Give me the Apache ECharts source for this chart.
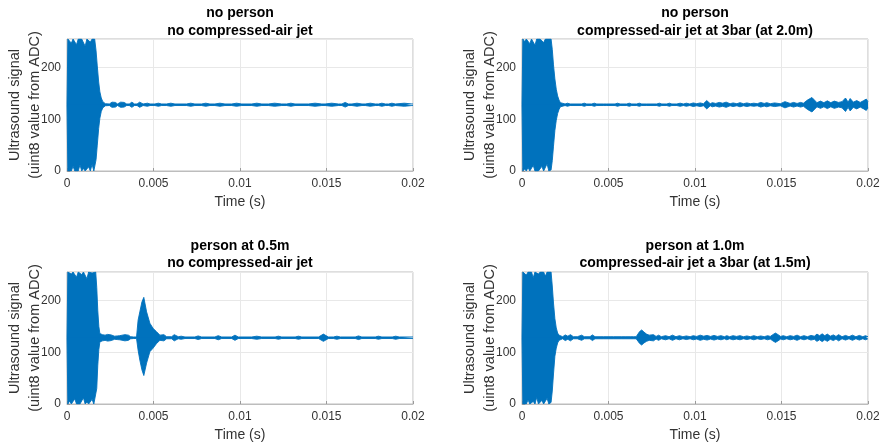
<!DOCTYPE html>
<html>
<head>
<meta charset="utf-8">
<script src="https://cdn.jsdelivr.net/npm/echarts@6/dist/echarts.min.js"></script>
<style>
html,body{margin:0;padding:0;background:#fff;}
#chart{width:883px;height:445px;}
</style>
</head>
<body>
<div id="chart"></div>
<script>
// ---------- DATA (signal envelope; time in ms, values in ADC units) ----------
const titles = [
  'no person\nno compressed-air jet',
  'no person\ncompressed-air jet at 3bar (at 2.0m)',
  'person at 0.5m\nno compressed-air jet',
  'person at 1.0m\ncompressed-air jet a 3bar (at 1.5m)'
];
const xTickValues = [0, 0.005, 0.01, 0.015, 0.02];
const yTickValues = [0, 100, 200];

const time1 = [0, 0.05, 0.15, 0.25, 0.35, 0.45, 0.55, 0.65, 0.75, 0.85,
  0.95, 1.05, 1.15, 1.25, 1.35, 1.45, 1.55, 1.6, 1.68, 1.75,
  1.83, 1.9, 1.98, 2.07, 2.15, 2.22, 2.45, 2.6, 2.8, 2.92,
  3.1, 3.3, 3.45, 3.6, 3.75, 3.9, 4.05, 4.2, 4.4, 4.65,
  4.8, 5.08, 5.28, 5.47, 5.75, 6.0, 6.24, 6.91, 7.15, 7.39,
  7.78, 8.02, 8.26, 8.55, 8.84, 9.13, 9.52, 9.8, 10.1, 10.68,
  10.97, 11.26, 11.64, 12.0, 12.41, 12.7, 12.94, 13.18, 13.95, 14.34,
  14.73, 14.92, 15.3, 15.69, 15.89, 16.08, 16.27, 16.47, 16.76, 17.05,
  17.24, 17.53, 17.82, 18.01, 18.2, 18.4, 18.59, 18.78, 18.98, 19.07,
  19.5, 19.94, 20];
const upper1 = [128, 255, 255, 247, 255, 255, 244, 255, 252, 255,
  255, 241, 255, 255, 249, 255, 255, 255, 232, 203,
  172, 153, 141, 134, 131, 130, 129.5, 133, 132.5, 129.5,
  133, 132.5, 129.5, 129.5, 133, 129.5, 129.5, 133, 129.5, 131,
  129.5, 129.5, 131, 129.5, 129.5, 131, 129.5, 129.5, 131, 129.5,
  129.5, 131, 129.5, 129.5, 131, 129.5, 129.5, 131, 129.5, 129.5,
  131, 129.5, 129.5, 131, 129.5, 129.5, 131, 129.5, 129.5, 131,
  129.5, 129.5, 131, 129.5, 129.5, 132.5, 129.5, 129.5, 131, 129.5,
  129.5, 131, 129.5, 129.5, 131, 129.5, 129.5, 131, 129.5, 129.5,
  131, 129.5, 129.5];
const lower1 = [128, 0, 3, 0, 9, 0, 2, 0, 12, 0,
  5, 0, 0, 8, 0, 13, 0, 2, 22, 50,
  82, 102, 115, 122, 125, 126, 126.5, 123, 123.5, 126.5,
  123, 123.5, 126.5, 126.5, 123, 126.5, 126.5, 123, 126.5, 125,
  126.5, 126.5, 125, 126.5, 126.5, 125, 126.5, 126.5, 125, 126.5,
  126.5, 125, 126.5, 126.5, 125, 126.5, 126.5, 125, 126.5, 126.5,
  125, 126.5, 126.5, 125, 126.5, 126.5, 125, 126.5, 126.5, 125,
  126.5, 126.5, 125, 126.5, 126.5, 123.5, 126.5, 126.5, 125, 126.5,
  126.5, 125, 126.5, 126.5, 125, 126.5, 126.5, 125, 126.5, 126.5,
  125, 126.5, 126.5];

const time2 = [0, 0.05, 0.15, 0.25, 0.35, 0.45, 0.55, 0.65, 0.75, 0.85,
  0.95, 1.05, 1.15, 1.25, 1.35, 1.45, 1.55, 1.68, 1.75, 1.82,
  1.9, 1.98, 2.06, 2.14, 2.22, 2.3, 2.49, 2.63, 2.78, 3.45,
  3.6, 3.74, 4.03, 4.18, 4.32, 4.7, 4.8, 4.9, 5.38, 5.52,
  5.67, 6.05, 6.2, 6.34, 6.63, 6.78, 6.92, 7.21, 7.3, 7.4,
  7.79, 7.94, 8.08, 8.37, 8.52, 8.66, 8.95, 9.14, 9.33, 9.5,
  9.7, 9.9, 10.1, 10.3, 10.49, 10.68, 10.88, 11.0, 11.2, 11.4,
  11.6, 11.8, 12.03, 12.2, 12.42, 12.6, 12.8, 13.0, 13.2, 13.4,
  13.6, 13.8, 14.0, 14.15, 14.35, 14.6, 14.93, 15.2, 15.5, 15.7,
  15.9, 16.1, 16.27, 16.5, 16.76, 17.05, 17.25, 17.45, 17.65, 17.85,
  18.05, 18.3, 18.5, 18.7, 18.85, 18.97, 19.15, 19.35, 19.55, 19.75,
  19.9, 20];
const upper2 = [128, 255, 250, 255, 255, 246, 255, 255, 243, 255,
  252, 255, 255, 248, 255, 255, 255, 255, 235, 205,
  178, 158, 145, 137, 132, 130, 129.5, 131, 129.5, 129.5,
  131, 129.5, 129.5, 131, 129.5, 129.5, 131, 129.5, 129.5, 131,
  129.5, 129.5, 131, 129.5, 129.5, 131, 129.5, 129.5, 131, 129.5,
  129.5, 131, 129.5, 129.5, 131, 129.5, 129.5, 131, 129.5, 131,
  129.5, 131.5, 130, 131.5, 130, 136, 130, 132, 130.5, 132.5,
  131, 133, 130, 131.5, 130, 132, 130, 131.5, 130, 131,
  130, 132.5, 130.5, 132, 130, 131.5, 130, 134, 130.5, 132.5,
  130.5, 132.5, 131, 137, 142, 132, 135, 132, 135.5, 132,
  135, 132.5, 134, 141, 133, 140, 133, 136, 132.5, 136,
  139, 134];
const lower2 = [128, 0, 4, 0, 7, 0, 0, 11, 0, 3,
  0, 0, 9, 0, 0, 14, 0, 2, 20, 48,
  78, 98, 111, 119, 124, 126, 126.5, 125, 126.5, 126.5,
  125, 126.5, 126.5, 125, 126.5, 126.5, 125, 126.5, 126.5, 125,
  126.5, 126.5, 125, 126.5, 126.5, 125, 126.5, 126.5, 125, 126.5,
  126.5, 125, 126.5, 126.5, 125, 126.5, 126.5, 125, 126.5, 125,
  126.5, 124.5, 126, 124.5, 126, 120, 126, 124, 125.5, 123.5,
  125, 123, 126, 124.5, 126, 124, 126, 124.5, 126, 125,
  126, 123.5, 125.5, 124, 126, 124.5, 126, 122, 125.5, 123.5,
  125.5, 123.5, 125, 119, 114, 124, 121, 124, 120.5, 124,
  121, 123.5, 122, 115, 123, 116, 123, 120, 123.5, 120,
  117, 122];

const time3 = [0, 0.05, 0.15, 0.25, 0.35, 0.45, 0.55, 0.65, 0.75, 0.85,
  0.95, 1.05, 1.15, 1.25, 1.35, 1.45, 1.55, 1.66, 1.72, 1.78,
  1.84, 1.9, 1.96, 2.05, 2.2, 2.35, 2.55, 2.75, 2.9, 3.05,
  3.15, 3.35, 3.55, 3.68, 3.85, 4.02, 4.11, 4.21, 4.33, 4.44,
  4.6, 4.79, 4.98, 5.18, 5.37, 5.47, 5.6, 5.76, 6.05, 6.2,
  6.43, 6.6, 6.82, 7.39, 7.58, 7.78, 8.55, 8.74, 8.94, 9.52,
  9.71, 9.9, 10.68, 10.97, 11.25, 12.03, 12.22, 12.41, 13.19, 13.38,
  13.57, 14.54, 14.82, 15.11, 15.4, 15.6, 15.8, 16.66, 16.85, 17.04,
  17.82, 18.0, 18.2, 18.8, 19.0, 19.2, 20];
const upper3 = [128, 255, 255, 251, 255, 255, 245, 255, 255, 250,
  255, 255, 242, 255, 255, 253, 255, 255, 225, 180,
  150, 136, 133, 134, 133, 134.5, 133.5, 131, 131.5, 132,
  135, 134, 133, 130, 129.5, 129.5, 162, 178, 197, 206,
  178, 156, 146, 139.5, 133, 130, 134, 130, 130, 134,
  130, 131, 129.5, 129.5, 131.5, 129.5, 129.5, 132, 129.5, 129.5,
  133, 129.5, 129.5, 131, 129.5, 129.5, 131, 129.5, 129.5, 131,
  129.5, 129.5, 135, 129.5, 129.5, 131, 129.5, 129.5, 131.5, 129.5,
  129.5, 131, 129.5, 129.5, 131, 129.5, 129.5];
const lower3 = [128, 0, 6, 0, 0, 10, 0, 3, 0, 0,
  12, 0, 4, 0, 0, 9, 0, 1, 30, 75,
  105, 120, 123, 122, 123, 121.5, 122.5, 125, 124.5, 124,
  121, 122, 123, 126, 126.5, 126.5, 104, 85, 66, 55,
  79, 101, 108, 117, 123, 126, 122, 126, 126, 122,
  126, 125, 126.5, 126.5, 124.5, 126.5, 126.5, 124, 126.5, 126.5,
  123, 126.5, 126.5, 125, 126.5, 126.5, 125, 126.5, 126.5, 125,
  126.5, 126.5, 121, 126.5, 126.5, 125, 126.5, 126.5, 124.5, 126.5,
  126.5, 125, 126.5, 126.5, 125, 126.5, 126.5];

const time4 = [0, 0.05, 0.15, 0.25, 0.35, 0.45, 0.55, 0.65, 0.75, 0.85,
  0.95, 1.05, 1.15, 1.25, 1.35, 1.45, 1.55, 1.68, 1.75, 1.82,
  1.9, 1.98, 2.06, 2.14, 2.22, 2.35, 2.5, 2.65, 2.8, 2.97,
  3.2, 3.45, 3.6, 3.93, 4.07, 4.22, 4.51, 4.6, 4.7, 5.09,
  5.18, 5.28, 5.77, 5.87, 5.96, 6.25, 6.35, 6.44, 6.6, 6.7,
  6.8, 6.92, 7.05, 7.2, 7.35, 7.45, 7.6, 7.75, 7.9, 8.05,
  8.3, 8.5, 8.7, 8.9, 9.1, 9.3, 9.5, 9.72, 9.9, 10.1,
  10.3, 10.5, 10.7, 10.9, 11.1, 11.3, 11.5, 11.7, 11.84, 12.0,
  12.2, 12.4, 12.6, 12.8, 13.0, 13.2, 13.4, 13.6, 13.8, 14.0,
  14.2, 14.35, 14.5, 14.65, 14.8, 14.95, 15.1, 15.3, 15.5, 15.7,
  15.9, 16.1, 16.3, 16.5, 16.7, 16.9, 17.05, 17.2, 17.35, 17.5,
  17.65, 17.82, 18.0, 18.15, 18.3, 18.5, 18.7, 18.9, 19.1, 19.3,
  19.5, 19.7, 19.85, 20];
const upper4 = [128, 255, 255, 249, 255, 255, 255, 244, 255, 255,
  251, 255, 255, 255, 247, 255, 255, 255, 228, 195,
  165, 147, 137, 133, 131, 130, 133.5, 131, 134, 130,
  130, 133, 130, 130, 133.5, 130, 130, 133, 130, 130,
  133, 130, 130, 133, 130, 130, 133, 130, 130, 131,
  140, 143, 139, 135, 133, 131, 134, 130.5, 133, 130,
  132, 130, 133, 130, 132, 130, 131.5, 130, 132, 130.5,
  133, 131, 132.5, 130.5, 132.5, 130.5, 132, 130, 132, 130,
  132, 130.5, 132, 130, 131.5, 130, 132, 130, 131.5, 130,
  132, 130.5, 134, 137, 134, 130.5, 132, 130, 132, 130.5,
  133, 130, 132, 130, 132.5, 131, 135, 132, 135.5, 132,
  135, 131, 133.5, 130.5, 134, 130, 132.5, 130, 133, 130,
  132.5, 130, 132, 130];
const lower4 = [128, 0, 2, 0, 8, 0, 0, 5, 0, 13,
  0, 0, 7, 0, 0, 11, 0, 3, 25, 58,
  92, 108, 118, 123, 125, 126, 122.5, 125, 122, 126,
  126, 123, 126, 126, 122.5, 126, 126, 123, 126, 126,
  123, 126, 126, 123, 126, 126, 123, 126, 126, 125,
  117, 114, 118, 121, 123, 125, 122, 125.5, 123, 126,
  124, 126, 123, 126, 124, 126, 124.5, 126, 124, 125.5,
  123, 125, 123.5, 125.5, 123.5, 125.5, 124, 126, 124, 126,
  124, 125.5, 124, 126, 124.5, 126, 124, 126, 124.5, 126,
  124, 125.5, 122, 119, 122, 125.5, 124, 126, 124, 125.5,
  123, 126, 124, 126, 123.5, 125, 121, 124, 120.5, 124,
  121, 125, 122.5, 125.5, 122, 126, 123.5, 126, 123, 126,
  123.5, 126, 124, 126];

// ---------- LAYOUT ----------
const BLUE = '#0072BD';
const FONT = '"Liberation Sans", Arial, Helvetica, sans-serif';
const panels = [
  {t: time1, hi: upper1, lo: lower1, left: 67, top: 39, cx: 240, ty: 4.5},
  {t: time2, hi: upper2, lo: lower2, left: 522, top: 39, cx: 695, ty: 4.5},
  {t: time3, hi: upper3, lo: lower3, left: 67, top: 272, cx: 240, ty: 237},
  {t: time4, hi: upper4, lo: lower4, left: 522, top: 272, cx: 695, ty: 237}
];
const W = 346, H = 132;

const option = {
  animation: false,
  backgroundColor: '#fff',
  title: [], grid: [], xAxis: [], yAxis: [], series: [], graphic: []
};

panels.forEach((p, i) => {
  option.title.push({
    text: titles[i], left: p.cx, top: p.ty, textAlign: 'center', padding: 0,
    textStyle: {fontFamily: FONT, fontSize: 14, fontWeight: 'bold', color: '#000', lineHeight: 17.5}
  });
  option.grid.push({left: p.left, top: p.top, width: W, height: H, show: true,
    borderColor: '#bdbdbd', borderWidth: 1, backgroundColor: '#fff', containLabel: false});
  option.xAxis.push({
    type: 'value', gridIndex: i, min: xTickValues[0], max: xTickValues[xTickValues.length - 1], interval: 0.005,
    name: 'Time (s)', nameLocation: 'middle', nameGap: 24,
    nameTextStyle: {fontFamily: FONT, fontSize: 14, color: '#333'},
    axisLine: {show: true, lineStyle: {color: '#bdbdbd', width: 1}},
    axisTick: {show: true, inside: true, length: 3, lineStyle: {color: '#9a9a9a'}},
    axisLabel: {fontFamily: FONT, fontSize: 12, color: '#333', margin: 7,
      formatter: v => String(parseFloat(Number(v).toFixed(4)))},
    splitLine: {show: true, lineStyle: {color: '#e8e8e8', width: 1}}
  });
  option.yAxis.push({
    type: 'value', gridIndex: i, min: 0, max: 255, interval: 100,
    axisLine: {show: true, lineStyle: {color: '#bdbdbd', width: 1}},
    axisTick: {show: true, inside: true, length: 3, lineStyle: {color: '#9a9a9a'}},
    axisLabel: {fontFamily: FONT, fontSize: 12, color: '#333', margin: 6, showMaxLabel: false,
      formatter: v => (yTickValues.indexOf(v) >= 0 ? String(v) : '')},
    splitLine: {show: true, lineStyle: {color: '#e8e8e8', width: 1}}
  });
  const mk = vals => p.t.map((t, k) => [t / 1000, vals[k]]);
  const base = {
    type: 'line', xAxisIndex: i, yAxisIndex: i, showSymbol: false, symbol: 'none',
    silent: true, clip: true, animation: false,
    lineStyle: {color: BLUE, width: 0.9}
  };
  // upper envelope filled down to just below the 128 centre, lower filled up to just above it (overlap hides the seam)
  option.series.push(Object.assign({}, base, {data: mk(p.hi), areaStyle: {color: BLUE, opacity: 1, origin: 127}}));
  option.series.push(Object.assign({}, base, {data: mk(p.lo), areaStyle: {color: BLUE, opacity: 1, origin: 129}}));
  option.graphic.push({
    type: 'text', x: p.left - 42, y: p.top + H / 2, rotation: Math.PI / 2,
    style: {text: 'Ultrasound signal\n(uint8 value from ADC)', font: '14.5px ' + FONT,
      fill: '#333', align: 'center', verticalAlign: 'middle', lineHeight: 20}
  });
});

const chart = echarts.init(document.getElementById('chart'), null, {renderer: 'canvas'});
chart.setOption(option);
</script>
</body>
</html>
